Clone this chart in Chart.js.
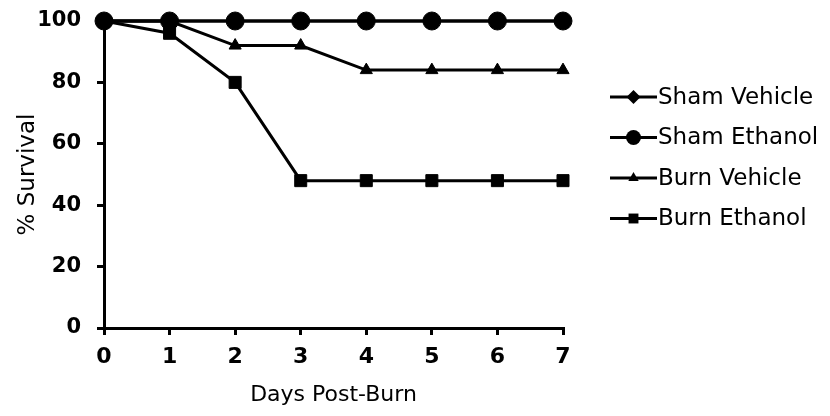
<!DOCTYPE html>
<html>
<head>
<meta charset="utf-8">
<script src="https://cdn.jsdelivr.net/npm/chart.js@4/dist/chart.umd.min.js"></script>
<style>
  html, body { margin: 0; padding: 0; background: #fff; }
  #wrap { width: 830px; height: 416px; }
</style>
</head>
<body>
<div id="wrap"><canvas id="survivalChart" width="830" height="416"></canvas></div>
<script>
const days = [0, 1, 2, 3, 4, 5, 6, 7];
const shamVehicle = [100, 100, 100, 100, 100, 100, 100, 100];
const shamEthanol = [100, 100, 100, 100, 100, 100, 100, 100];
const burnVehicle = [100, 100, 92, 92, 84, 84, 84, 84];
const burnEthanol = [100, 96, 80, 48, 48, 48, 48, 48];
const seriesNames = ['Sham Vehicle', 'Sham Ethanol', 'Burn Vehicle', 'Burn Ethanol'];

const toPoints = vals => vals.map((v, i) => ({ x: days[i], y: v }));
const FONT = '"DejaVu Sans", sans-serif';

// legend with a line through the marker, like the original figure
const sideLegend = {
    id: 'sideLegend',
    afterDraw(chart) {
        const ctx = chart.ctx;
        const x0 = 610, x1 = 657, top = 97, gap = 40.5;
        chart.data.datasets.forEach((ds, i) => {
            const y = top + i * gap;
            ctx.save();
            ctx.strokeStyle = '#000';
            ctx.lineWidth = 3;
            ctx.beginPath();
            ctx.moveTo(x0, y);
            ctx.lineTo(x1, y);
            ctx.stroke();
            ctx.fillStyle = '#000';
            Chart.helpers.drawPoint(ctx, {
                pointStyle: ds.pointStyle,
                radius: ds.legendRadius,
                borderWidth: 0
            }, (x0 + x1) / 2, y);
            ctx.font = '23px ' + FONT;
            ctx.textBaseline = 'middle';
            ctx.fillText(ds.label, x1 + 1, y + 1);
            ctx.restore();
        });
    }
};

const common = {
    borderColor: '#000',
    backgroundColor: '#000',
    pointBackgroundColor: '#000',
    pointBorderColor: '#000',
    pointBorderWidth: 1,
    borderWidth: 3,
    fill: false,
    tension: 0,
    clip: false
};

const ctx = document.getElementById('survivalChart').getContext('2d');
new Chart(ctx, {
    type: 'line',
    data: {
        datasets: [
            { ...common, label: seriesNames[0], data: toPoints(shamVehicle), pointStyle: 'rectRot', pointRadius: 8, legendRadius: 7, order: 3 },
            { ...common, label: seriesNames[1], data: toPoints(shamEthanol), pointStyle: 'circle', pointRadius: 9, legendRadius: 7.5, order: 2 },
            { ...common, label: seriesNames[2], data: toPoints(burnVehicle), pointStyle: 'triangle', pointRadius: 7, legendRadius: 6, order: 1 },
            { ...common, label: seriesNames[3], data: toPoints(burnEthanol), pointStyle: 'rect', pointRadius: 8.5, legendRadius: 7, order: 0 }
        ]
    },
    options: {
        responsive: false,
        animation: false,
        layout: { padding: { top: 21, right: 267, left: 0, bottom: 0 } },
        plugins: {
            legend: { display: false },
            tooltip: { enabled: false }
        },
        scales: {
            x: {
                type: 'linear',
                min: 0,
                max: 7,
                afterFit: s => { s.height = 88; s.paddingLeft = 0; s.paddingRight = 0; },
                ticks: { stepSize: 1, color: '#000', font: { family: FONT, size: 22, weight: 'bold' }, padding: 9 },
                grid: { display: true, drawOnChartArea: false, drawTicks: true, tickLength: 7, color: '#000', lineWidth: 3 },
                border: { display: true, color: '#000', width: 3 },
                title: { display: true, text: 'Days Post-Burn', color: '#000', font: { family: FONT, size: 22 }, padding: { top: 0, bottom: 8 } }
            },
            y: {
                min: 0,
                max: 100,
                afterFit: s => { s.width = 104; s.paddingTop = 0; s.paddingBottom = 0; },
                ticks: { stepSize: 20, color: '#000', font: { family: FONT, size: 21, weight: 'bold' }, padding: 16 },
                grid: { display: true, drawOnChartArea: false, drawTicks: true, tickLength: 7, color: '#000', lineWidth: 3 },
                border: { display: true, color: '#000', width: 3 },
                title: { display: true, text: '% Survival', color: '#000', font: { family: FONT, size: 23 }, padding: { top: 14, bottom: 0 } }
            }
        }
    },
    plugins: [sideLegend]
});
</script>
</body>
</html>
